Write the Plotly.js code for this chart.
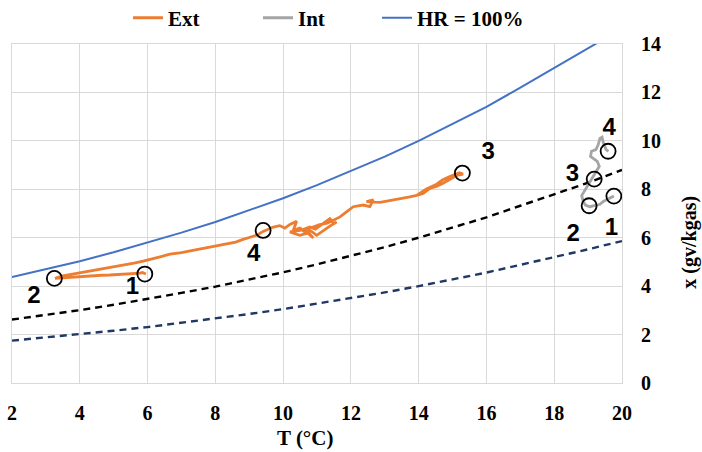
<!DOCTYPE html>
<html>
<head>
<meta charset="utf-8">
<script src="https://cdn.plot.ly/plotly-3.0.1.min.js"></script>
<style>html,body{margin:0;padding:0;background:#fff;}#chart{width:702px;height:452px;}</style>
</head>
<body>
<div id="chart"></div>
<script>
// Saturation curve (HR = 100%) and two lower dashed curves
const curveT   = [2, 3, 4, 5, 6, 7, 8, 9, 10, 11, 12, 13, 14, 15, 16, 17, 18, 19, 19.4, 20];
const hr100X   = [4.38, 4.70, 5.03, 5.40, 5.79, 6.21, 6.65, 7.13, 7.63, 8.17, 8.75, 9.35, 10.0, 10.7, 11.4, 12.2, 13.0, 13.8, 14.15, 14.7];
const dashBlkX = [2.62, 2.81, 3.01, 3.23, 3.46, 3.72, 3.98, 4.27, 4.57, 4.90, 5.25, 5.61, 6.00, 6.42, 6.84, 7.32, 7.78, 8.27, 8.48, 8.80];
const dashNavX = [1.75, 1.88, 2.01, 2.16, 2.31, 2.48, 2.66, 2.85, 3.05, 3.27, 3.50, 3.74, 4.00, 4.28, 4.56, 4.88, 5.19, 5.52, 5.66, 5.86];

// Exterior trajectory
const extT = [5.95, 5.85, 5.78, 5.6, 5.45, 5.28, 5.1, 4.89, 4.65, 4.40, 4.15, 3.91, 3.7, 3.51, 3.27,
  3.5, 3.7, 3.91, 4.15, 4.40, 4.65, 4.89, 5.1, 5.38, 5.6, 5.87, 6.1, 6.37, 6.66, 6.76, 7.0, 7.3, 7.55, 7.8, 8.05, 8.33, 8.6, 8.8, 9.02, 9.25, 9.41,
  9.71, 9.9, 10.05, 10.2, 10.40, 10.3, 10.5, 10.69, 10.6, 10.89, 10.75, 10.49, 10.3, 10.2, 10.5, 10.79, 10.95, 11.18, 11.05, 11.38, 11.5, 11.58, 11.4, 11.28, 11.1, 10.99, 10.85, 10.69, 10.9, 11.08, 11.3, 11.45, 11.68,
  11.87, 12.07, 12.36, 12.56, 12.66, 12.46, 12.86, 13.1, 13.35, 13.55, 13.74, 13.94, 14.13, 14.33, 14.52, 14.72, 14.92, 15.12, 15.31,
  15.2, 14.92, 14.7, 14.53, 14.23, 13.94];
const extX = [4.5, 4.56, 4.54, 4.52, 4.5, 4.49, 4.47, 4.46, 4.45, 4.43, 4.42, 4.40, 4.38, 4.36, 4.32,
  4.42, 4.47, 4.5, 4.57, 4.625, 4.69, 4.75, 4.8, 4.89, 4.95, 5.03, 5.1, 5.21, 5.32, 5.33, 5.38, 5.47, 5.54, 5.6, 5.66, 5.75, 5.82, 5.92, 6.03, 6.12, 6.26,
  6.44, 6.5, 6.4, 6.55, 6.68, 6.31, 6.4, 6.17, 6.35, 5.99, 6.2, 6.1, 6.2, 6.24, 6.3, 6.44, 6.35, 6.58, 6.45, 6.79, 6.6, 6.65, 6.5, 6.39, 6.2, 6.1, 6.25, 6.35, 6.45, 6.54, 6.6, 6.7, 6.86,
  7.07, 7.28, 7.35, 7.28, 7.56, 7.49, 7.46, 7.52, 7.58, 7.62, 7.69, 7.75, 7.83, 8.04, 8.12, 8.25, 8.4, 8.57, 8.63,
  8.68, 8.53, 8.38, 8.21, 8.01, 7.75];

// Interior trajectory
const intT = [19.76, 19.6, 19.45, 19.35, 19.2, 19.05, 18.92, 18.86, 18.81, 18.91, 19.05, 19.15, 19.25, 19.33, 19.27, 19.07, 19.10, 19.23, 19.30, 19.35, 19.41, 19.45, 19.53, 19.6];
const intX = [7.72, 7.6, 7.5, 7.38, 7.32, 7.28, 7.35, 7.49, 7.74, 7.97, 8.25, 8.49, 8.74, 8.95, 9.15, 9.36, 9.57, 9.64, 9.85, 10.1, 10.15, 9.92, 9.64, 9.57];

// Marked points 1..4 and their labels
const pointLabels = ["1", "2", "3", "4"];
const extPtT = [5.92, 3.25, 15.29, 9.41];
const extPtX = [4.5, 4.32, 8.67, 6.3];
const intPtT = [19.76, 19.03, 19.18, 19.59];
const intPtX = [7.72, 7.32, 8.42, 9.57];
const extLblT = [5.55, 2.65, 16.05, 9.13];
const extLblX = [3.92, 3.55, 9.48, 5.3];
const intLblT = [19.69, 18.56, 18.54, 19.62];
const intLblX = [6.38, 6.1, 8.6, 10.47];

const xTicks = [2, 4, 6, 8, 10, 12, 14, 16, 18, 20];
const yTicks = [0, 2, 4, 6, 8, 10, 12, 14];

const serif = "Liberation Serif";
const sans = "Liberation Sans";

const traces = [
  {x: curveT, y: dashNavX, mode: "lines", line: {color: "#1F3864", width: 2.4, dash: "7px,5px"}, showlegend: false, hoverinfo: "skip"},
  {x: curveT, y: dashBlkX, mode: "lines", line: {color: "#000000", width: 2.4, dash: "7px,5px"}, showlegend: false, hoverinfo: "skip"},
  {x: curveT, y: hr100X, mode: "lines", name: "HR = 100%", line: {color: "#4472C4", width: 2}, legend: "legend3"},
  {x: extT, y: extX, mode: "lines", name: "Ext", line: {color: "#ED7D31", width: 2.8}, legend: "legend"},
  {x: intT, y: intX, mode: "lines", name: "Int", line: {color: "#A5A5A5", width: 2.8}, legend: "legend2"},
  {x: extPtT, y: extPtX, mode: "markers", marker: {symbol: "circle-open", size: 15, color: "#000", line: {width: 1.8}}, showlegend: false, cliponaxis: false},
  {x: intPtT, y: intPtX, mode: "markers", marker: {symbol: "circle-open", size: 15, color: "#000", line: {width: 1.8}}, showlegend: false, cliponaxis: false},
  {x: extLblT, y: extLblX, mode: "text", text: pointLabels, textfont: {family: sans, size: 24, color: "#000", weight: "bold"}, showlegend: false, cliponaxis: false},
  {x: intLblT, y: intLblX, mode: "text", text: pointLabels, textfont: {family: sans, size: 24, color: "#000", weight: "bold"}, showlegend: false, cliponaxis: false}
];

const legFont = {family: serif, size: 21, color: "#000", weight: "bold"};
const mkLegend = px => ({orientation: "h", xref: "container", yref: "container", x: px / 702, xanchor: "left",
  y: 0.96, yanchor: "middle", font: legFont, bgcolor: "rgba(0,0,0,0)", borderwidth: 0});

const layout = {
  width: 702, height: 452,
  margin: {l: 12, r: 80, t: 44, b: 69},
  paper_bgcolor: "#fff", plot_bgcolor: "#fff",
  font: {family: serif, color: "#000"},
  showlegend: true,
  legend: mkLegend(128),
  legend2: mkLegend(258),
  legend3: mkLegend(377),
  xaxis: {range: [2, 20], tickvals: xTicks, showgrid: true, gridcolor: "#D9D9D9", gridwidth: 1,
          zeroline: false, showline: true, linecolor: "#D9D9D9", linewidth: 1, mirror: true,
          ticks: "outside", ticklen: 12, tickcolor: "rgba(0,0,0,0)",
          tickfont: {family: serif, size: 20, color: "#000", weight: "bold"}, fixedrange: true},
  yaxis: {range: [0, 14], side: "right", tickvals: yTicks, showgrid: true, gridcolor: "#D9D9D9", gridwidth: 1,
          zeroline: false, showline: true, linecolor: "#D9D9D9", linewidth: 1, mirror: true,
          ticks: "outside", ticklen: 14, tickcolor: "rgba(0,0,0,0)",
          tickfont: {family: serif, size: 20, color: "#000", weight: "bold"}, fixedrange: true},
  annotations: [
    {text: "T (°C)", xref: "paper", yref: "paper", x: 0.48, y: -0.162, xanchor: "center", yanchor: "middle",
     showarrow: false, font: {family: serif, size: 21, color: "#000", weight: "bold"}},
    {text: "x (gv/kgas)", xref: "paper", yref: "paper", x: 1.111, y: 0.416, xanchor: "center", yanchor: "middle",
     textangle: -90, showarrow: false, font: {family: serif, size: 20, color: "#000", weight: "bold"}}
  ]
};

Plotly.newPlot("chart", traces, layout, {displayModeBar: false, staticPlot: true});
</script>
</body>
</html>
